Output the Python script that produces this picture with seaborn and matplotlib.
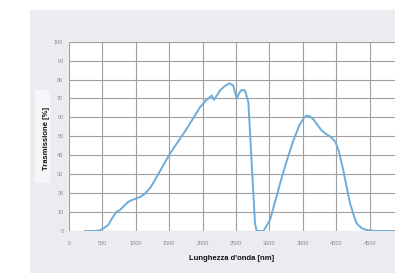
import seaborn as sns
import pandas as pd
import matplotlib.pyplot as plt
from matplotlib.patches import Rectangle

# valori
lunghezza_onda = [240, 300, 400, 454, 500, 588, 650, 714, 760, 789, 830, 888, 950, 1013, 1080, 1138,
                  1220, 1313, 1512, 1762, 1961, 2050, 2136, 2171, 2260, 2330, 2400, 2460, 2510, 2550,
                  2585, 2635, 2685, 2735, 2784, 2810, 2860, 2910, 3009, 3159, 3250, 3350, 3450, 3520,
                  3559, 3610, 3657, 3720, 3783, 3860, 3932, 3990, 4040, 4106, 4207, 4270, 4307, 4380,
                  4456, 4600, 4880]
trasmissione = [0, 0, 0, 0.3, 1, 3.2, 7, 10.2, 11, 12, 13.5, 15.4, 16.5, 17.2, 18.3, 19.8,
                23, 28.6, 40.9, 54, 65.4, 69, 71.6, 69.3, 74.2, 76.5, 78, 76.8, 69.8, 73,
                74.5, 74.2, 68, 35.6, 4, 0, 0, 0, 5.8, 25, 36, 47, 56, 60,
                61, 60.5, 59, 56, 53, 51, 49.3, 47, 42, 32, 14.6, 7.5, 4, 1.5,
                0.5, 0, 0]
x_ticks = [0, 500, 1000, 1500, 2000, 2500, 3000, 3500, 4000, 4500]
y_ticks = [0, 10, 20, 30, 40, 50, 60, 70, 80, 90, 100]

df = pd.DataFrame({'nm': lunghezza_onda, 'T': trasmissione})

sns.set_style('white')
plt.rcParams['font.family'] = ['Liberation Sans', 'DejaVu Sans']

fig = plt.figure(figsize=(3.95, 2.75), dpi=100)
fig.patch.set_facecolor('white')

# sfondo grigio della scansione
fig.patches.append(Rectangle((30 / 395, 1 - 273 / 275), 365 / 395, 263 / 275,
                             transform=fig.transFigure, facecolor='#ebecf0',
                             edgecolor='none', zorder=-10))
# riquadro chiaro dietro l'etichetta y
fig.patches.append(Rectangle((35 / 395, 1 - 183 / 275), 15 / 395, 93 / 275,
                             transform=fig.transFigure, facecolor='#f6f6f8',
                             edgecolor='none', zorder=-9))

ax = fig.add_axes([69 / 395, 1 - 231 / 275, 1 - 69 / 395, (231 - 41.7) / 275])
ax.set_zorder(1)
ax.set_facecolor('white')

sns.lineplot(data=df, x='nm', y='T', ax=ax, color='#6eacd9', linewidth=1.4)

ax.set_xlim(0, 4880)
ax.set_ylim(0, 100)
ax.set_xticks(x_ticks)
ax.set_yticks(y_ticks)
ax.grid(True, color='#a0a0a0', linewidth=0.8)
ax.set_axisbelow(True)
for s in ax.spines.values():
    s.set_visible(False)
ax.tick_params(axis='both', length=0, labelsize=4, labelcolor='#8a8a8a')
ax.tick_params(axis='x', pad=7)
ax.tick_params(axis='y', pad=4)
ax.set_xlabel('')
ax.set_ylabel('')

fig.text(46.7 / 395, 1 - 139 / 275, 'Trasmissione [%]', rotation=90,
         ha='center', va='center', fontsize=5.5, fontweight='bold', color='#111111')
fig.text(231.7 / 395, 1 - 258 / 275, "Lunghezza d'onda [nm]",
         ha='center', va='center', fontsize=5.5, fontweight='bold', color='#111111')

plt.savefig('out.png', dpi=100)
